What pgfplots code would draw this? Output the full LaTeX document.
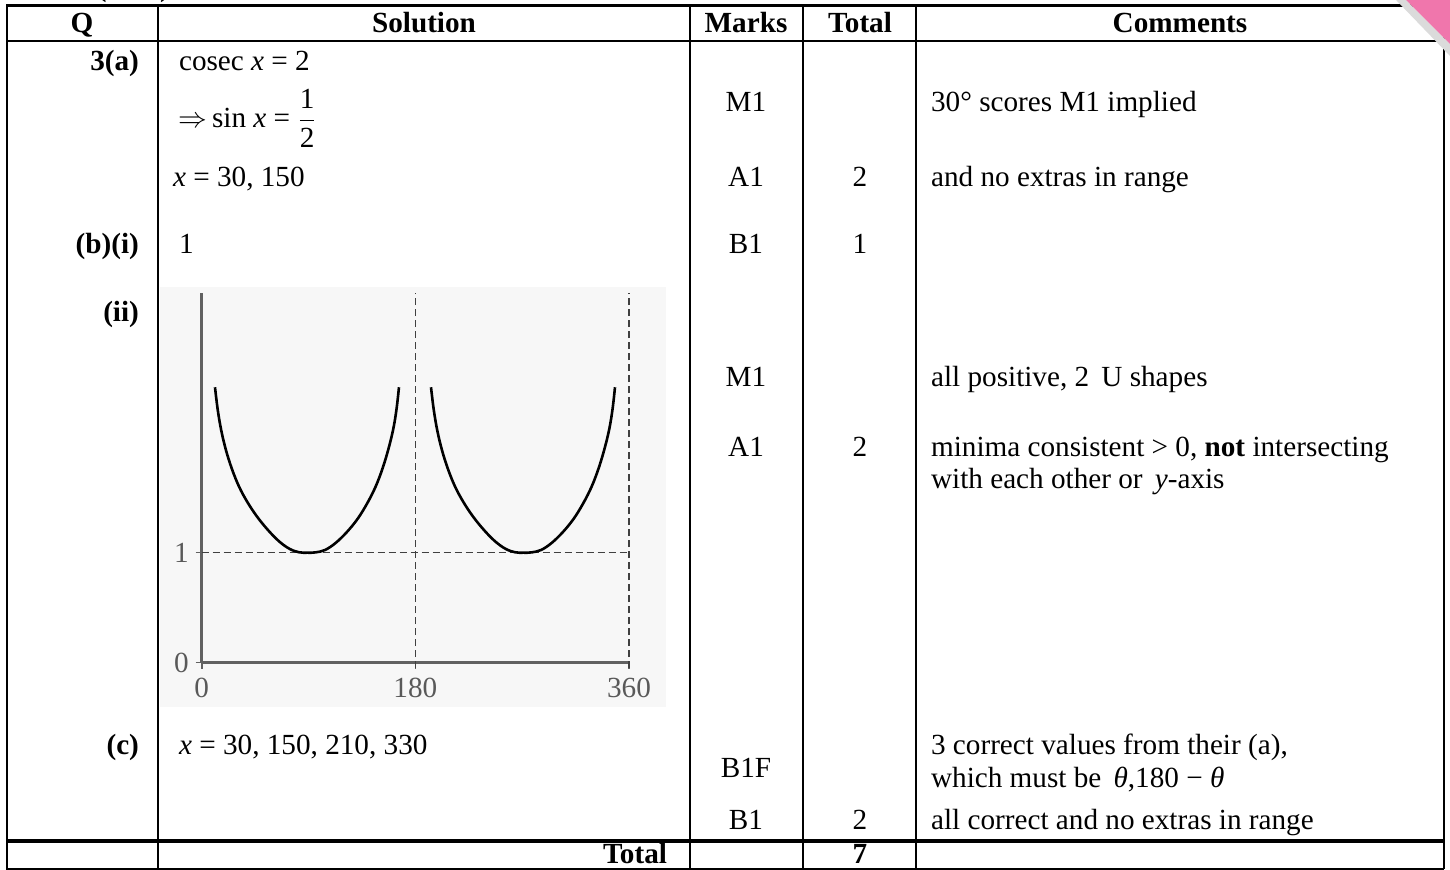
\documentclass[border=0pt]{standalone}
\usepackage{pgfplots}
\pgfplotsset{compat=1.18}
\usepackage{amsmath}
\usepackage{fontspec}
\setmainfont{Liberation Serif}
\definecolor{pinkc}{RGB}{240,118,172}
\newcommand{\fs}{\fontsize{14.6}{17}\selectfont}
\begin{document}
\begin{tikzpicture}[font=\fs]
\begin{scope}[x=0.5pt,y=-0.5pt]
\useasboundingbox (0,0) rectangle (1450,870);
% light background of the sketch
\fill[black!3] (160,287) rectangle (666,707);
% table rules
\draw[line width=1.5pt] (6,6) -- (1415,6);
\draw[line width=1pt] (6,41) -- (1444,41);
\draw[line width=2pt] (6,841) -- (1444,841);
\draw[line width=1pt] (6,869) -- (1444,869);
\foreach \xx in {7,158,690,803,916,1444}{\draw[line width=1pt] (\xx,6) -- (\xx,869);}
% corner overlay
\fill[black!14] (1396,0) -- (1406,0) -- (1450,44) -- (1450,56) -- cycle;
\fill[pinkc] (1406,0) -- (1450,0) -- (1450,44) -- cycle;
% cut-off heading
\node[anchor=base east,font=\fs\bfseries] at (177,-3) {(cont)};
% header
\node[anchor=base,font=\fs\bfseries] at (82,33) {Q};
\node[anchor=base,font=\fs\bfseries] at (424,33) {Solution};
\node[anchor=base,font=\fs\bfseries] at (746,33) {Marks};
\node[anchor=base,font=\fs\bfseries] at (860,33) {Total};
\node[anchor=base,font=\fs\bfseries] at (1180,33) {Comments};
% 3(a)
\node[anchor=base east,font=\fs\bfseries] at (146,71) {3(a)};
\node[anchor=base west] at (172,71) {cosec \textit{x} = 2};
\node[anchor=west,inner sep=0pt] at (178,118) {$\Rightarrow$\,sin \textit{x} = $\dfrac{\text{1}}{\text{2}}$};
\node[anchor=base] at (746,112) {M1};
\node[anchor=base west] at (924,112) {30° scores M1 implied};
\node[anchor=base west] at (166,187) {\textit{x} = 30, 150};
\node[anchor=base] at (746,187) {A1};
\node[anchor=base] at (860,187) {2};
\node[anchor=base west] at (924,187) {and no extras in range};
% (b)
\node[anchor=base east,font=\fs\bfseries] at (146,254) {(b)(i)};
\node[anchor=base west] at (172,254) {1};
\node[anchor=base] at (746,254) {B1};
\node[anchor=base] at (860,254) {1};
\node[anchor=base east,font=\fs\bfseries] at (146,322) {(ii)};
\node[anchor=base] at (746,387) {M1};
\node[anchor=base west] at (924,387) {all positive, 2\, U shapes};
\node[anchor=base] at (746,457) {A1};
\node[anchor=base] at (860,457) {2};
\node[anchor=base west] at (924,457) {minima consistent > 0, \textbf{not} intersecting};
\node[anchor=base west] at (924,489) {with each other or\, \textit{y}-axis};
% (c)
\node[anchor=base east,font=\fs\bfseries] at (146,754) {(c)};
\node[anchor=base west] at (172,754) {\textit{x} = 30, 150, 210, 330};
\node[anchor=base] at (746,777) {B1F};
\node[anchor=base west] at (924,754) {3 correct values from their (a),};
\node[anchor=base west] at (924,787) {which must be\, \textit{θ},180 − \textit{θ}};
\node[anchor=base] at (746,829) {B1};
\node[anchor=base] at (860,829) {2};
\node[anchor=base west] at (924,829) {all correct and no extras in range};
% total
\node[anchor=base east,font=\fs\bfseries] at (674,863) {Total};
\node[anchor=base,font=\fs\bfseries] at (860,863) {7};
\end{scope}
\begin{axis}[
  at={(100.85pt,-331.35pt)}, anchor=south west,
  scale only axis, width=213.65pt, height=184.8pt,
  xmin=0, xmax=360, ymin=0, ymax=3.36,
  axis lines=left,
  axis line style={-, draw=black!62, line width=1.4pt},
  xtick={0,180,360}, ytick={0,1},
  tick align=outside, major tick length=3pt,
  tick style={black!62, line width=0.8pt},
  tick label style={font=\fs, text=black!65},
  /pgf/number format/assume math mode=true,
  xticklabel style={yshift=-1pt},
  clip=false,
]
\addplot[black!75, line width=0.7pt, dash pattern=on 3.5pt off 2pt] coordinates {(0,1) (360,1)};
\addplot[black!75, line width=0.7pt, dash pattern=on 3.5pt off 2pt] coordinates {(180,-0.05) (180,3.36)};
\addplot[black!75, line width=0.7pt, dash pattern=on 3.5pt off 2pt] coordinates {(360,-0.05) (360,3.36)};
\addplot[black, line width=1.3pt, smooth, tension=0.6] coordinates {
(11.2,2.504) (13.5,2.300) (16.5,2.110) (20.5,1.930) (25.5,1.760) (31.5,1.600)
(38.5,1.460) (46.5,1.330) (55.5,1.210) (65.0,1.105) (74.0,1.035) (82.0,1.004)
(89.0,1.000) (96.0,1.003) (104.0,1.025) (113.0,1.090) (122.5,1.190) (131.5,1.310)
(139.5,1.450) (146.5,1.600) (152.5,1.770) (157.5,1.950) (161.5,2.130) (164.2,2.310)
(166.2,2.504)};
\addplot[black, line width=1.3pt, smooth, tension=0.6] coordinates {
(193.2,2.504) (195.5,2.300) (198.5,2.110) (202.5,1.930) (207.5,1.760) (213.5,1.600)
(220.5,1.460) (228.5,1.330) (237.5,1.210) (247.0,1.105) (256.0,1.035) (264.0,1.004)
(271.0,1.000) (278.0,1.003) (286.0,1.025) (295.0,1.090) (304.5,1.190) (313.5,1.310)
(321.5,1.450) (328.5,1.600) (334.5,1.770) (339.5,1.950) (343.5,2.130) (346.2,2.310)
(348.2,2.504)};
\end{axis}
\end{tikzpicture}
\end{document}
